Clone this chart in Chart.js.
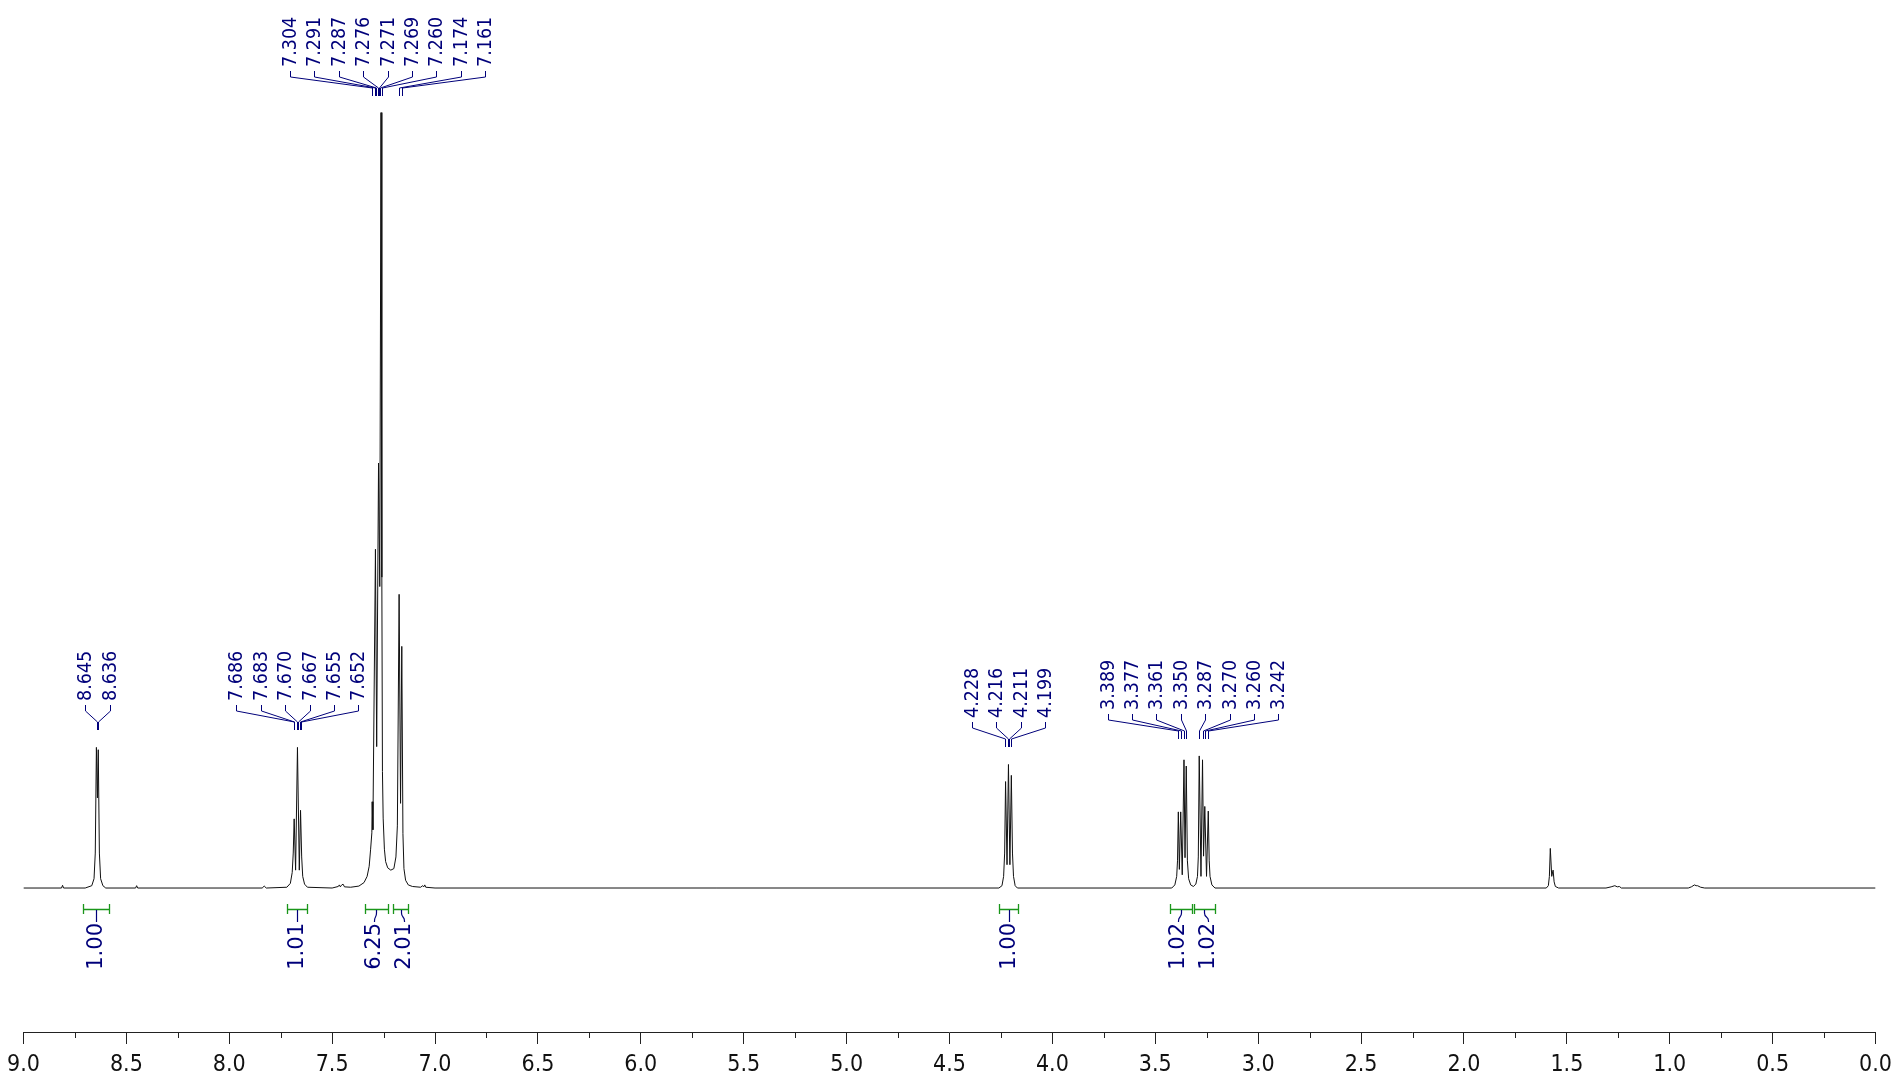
<!DOCTYPE html>
<html><head><meta charset="utf-8">
<script src="https://cdn.jsdelivr.net/npm/chart.js@4.4.1/dist/chart.umd.min.js"></script>
<style>html,body{margin:0;padding:0;background:#fff;overflow:hidden}canvas{display:block}</style>
</head><body>
<canvas id="c" width="1899" height="1076"></canvas>
<script>
// ---- spectrum (chemical shift in ppm, relative intensity, tallest = 100) ----
const shiftPpm = [
 9.00, 8.815, 8.81, 8.805, 8.70, 8.668, 8.657, 8.651, 8.6455, 8.6405, 8.6365, 8.631, 8.625, 8.614, 8.60,
 8.455, 8.45, 8.445, 7.84, 7.83, 7.82,
 7.72, 7.703, 7.694, 7.689, 7.6845, 7.6775, 7.6685, 7.6595, 7.6535, 7.648, 7.643, 7.634, 7.62,
 7.50, 7.47, 7.465, 7.46, 7.455, 7.447, 7.44, 7.41,
 7.37, 7.345, 7.33, 7.32, 7.313, 7.307, 7.3055, 7.302, 7.2895, 7.2835, 7.2745, 7.2685, 7.2625,
 7.2585, 7.2555, 7.252, 7.246, 7.240, 7.230, 7.215, 7.200, 7.190, 7.183,
 7.1745, 7.1675, 7.1615, 7.156, 7.151, 7.143, 7.13, 7.11,
 7.07, 7.06, 7.055, 7.05, 7.045, 7.00,
 4.26, 4.245, 4.237, 4.232, 4.2275, 4.2205, 4.2135, 4.2065, 4.1995, 4.194, 4.189, 4.181, 4.17,
 3.42, 3.405, 3.396, 3.392, 3.388, 3.383, 3.3765, 3.369, 3.3605, 3.3555, 3.3495, 3.344, 3.338, 3.328,
 3.315, 3.303, 3.295, 3.291, 3.2865, 3.278, 3.2705, 3.2655, 3.2595, 3.251, 3.2425, 3.238, 3.234, 3.225, 3.21,
 1.60, 1.59, 1.585, 1.5805, 1.5735, 1.567, 1.562, 1.556, 1.54,
 1.31, 1.285, 1.267, 1.255, 1.245, 1.235,
 0.91, 0.895, 0.880, 0.872, 0.865, 0.85, 0.83, 0.00
];
const intensity = [
 0.0, 0.0, 0.35, 0.0, 0.0, 0.3, 1.2, 4.5, 18.1, 11.6, 17.8, 4.5, 1.2, 0.3, 0.0,
 0.0, 0.3, 0.0, 0.0, 0.25, 0.0,
 0.1, 0.6, 2.0, 4.5, 8.9, 2.3, 18.1, 2.3, 10.0, 4.0, 1.5, 0.5, 0.1,
 0.0, 0.2, 0.4, 0.15, 0.35, 0.5, 0.15, 0.1,
 0.25, 0.7, 1.5, 2.8, 5.0, 7.1, 11.1, 7.5, 43.6, 18.2, 54.7, 38.8, 99.8,
 40.0, 15.0, 9.0, 5.0, 3.4, 2.6, 2.3, 2.5, 4.0, 8.0,
 37.8, 10.9, 31.1, 7.0, 2.5, 1.0, 0.4, 0.2,
 0.1, 0.3, 0.15, 0.4, 0.1, 0.0,
 0.0, 0.3, 1.5, 4.5, 13.7, 3.0, 15.9, 3.0, 14.5, 4.5, 1.5, 0.3, 0.0,
 0.0, 0.4, 1.5, 3.5, 9.8, 2.4, 9.8, 1.7, 16.5, 3.9, 15.7, 3.5, 1.2, 0.4,
 0.2, 0.5, 1.5, 4.0, 17.0, 1.5, 16.5, 4.1, 10.5, 1.5, 9.9, 3.5, 1.5, 0.4, 0.0,
 0.0, 0.3, 1.5, 5.1, 1.5, 2.3, 0.8, 0.2, 0.0,
 0.0, 0.15, 0.3, 0.15, 0.2, 0.0,
 0.0, 0.15, 0.4, 0.3, 0.3, 0.1, 0.0, 0.0
];

// ---- peak pick labels (one group per multiplet) ----
const peaks1 = ['8.645','8.636'];
const peaks2 = ['7.686','7.683','7.670','7.667','7.655','7.652'];
const peaks3 = ['7.304','7.291','7.287','7.276','7.271','7.269','7.260','7.174','7.161'];
const peaks4 = ['4.228','4.216','4.211','4.199'];
const peaks5 = ['3.389','3.377','3.361','3.350','3.287','3.270','3.260','3.242'];
const peakGroups = [peaks1, peaks2, peaks3, peaks4, peaks5];

// ---- integrals ----
const integralFrom = [8.710, 7.721, 7.341, 7.203, 4.259, 3.427, 3.313];
const integralTo   = [8.586, 7.624, 7.228, 7.130, 4.166, 3.322, 3.212];
const integralText = ['1.00','1.01','6.25','2.01','1.00','1.02','1.02'];

// ---- axis ----
const axisMin = 0, axisMax = 9, majorStep = 0.5, minorStep = 0.25;

const NAVY = '#00007a';
const GREEN = '#1a961a';
const PEAK_FONT = '19.5px "DejaVu Sans Condensed", "DejaVu Sans"';
const INT_FONT = '21px "DejaVu Sans"';
const groupShift = [0, 0, 5, 0, 0];

const annot = {
  id: 'annot',
  afterDraw(chart) {
    const ctx = chart.ctx, xs = chart.scales.x, ys = chart.scales.y;
    const ca = chart.chartArea;
    ctx.save();
    // minor ticks
    ctx.strokeStyle = '#222'; ctx.lineWidth = 1;
    for (let v = axisMin + minorStep; v < axisMax; v += majorStep) {
      const px = Math.round(xs.getPixelForValue(v)) + 0.5;
      ctx.beginPath(); ctx.moveTo(px, ca.bottom); ctx.lineTo(px, ca.bottom + 6); ctx.stroke();
    }
    // peak labels
    ctx.font = PEAK_FONT; ctx.fillStyle = NAVY; ctx.strokeStyle = NAVY; ctx.lineWidth = 1;
    peakGroups.forEach((g, gi) => {
      const vals = g.map(parseFloat);
      const pxs = vals.map(v => xs.getPixelForValue(v));
      const lo = Math.min(...vals) - 0.01, hi = Math.max(...vals) + 0.01;
      let m = 0;
      shiftPpm.forEach((p, i) => { if (p >= lo && p <= hi) m = Math.max(m, intensity[i]); });
      const bottom = Math.round(ys.getPixelForValue(m) - 17);
      const mean = pxs.reduce((a, b) => a + b, 0) / pxs.length + groupShift[gi];
      const sp = 24.4;
      g.forEach((s, i) => {
        const lx = Math.round(mean + (i - (g.length - 1) / 2) * sp) + 0.5;
        const px = Math.round(pxs[i]) + 0.5;
        ctx.beginPath();
        ctx.moveTo(lx, bottom - 25); ctx.lineTo(lx, bottom - 19);
        ctx.lineTo(px, bottom - 8); ctx.lineTo(px, bottom);
        ctx.stroke();
        ctx.save();
        ctx.translate(lx, bottom - 29); ctx.rotate(-Math.PI / 2);
        ctx.textAlign = 'left'; ctx.textBaseline = 'middle';
        ctx.fillText(s, 0, 0);
        ctx.restore();
      });
    });
    // integrals
    const yI = 909;
    const centers = integralFrom.map((f, i) => (xs.getPixelForValue(f) + xs.getPixelForValue(integralTo[i])) / 2);
    const tx = centers.slice();
    for (let i = 0; i < tx.length - 1; i++) {
      if (tx[i + 1] - tx[i] < 30) { const mid = (tx[i] + tx[i + 1]) / 2; tx[i] = mid - 15; tx[i + 1] = mid + 15; }
    }
    integralFrom.forEach((f, i) => {
      const x1 = Math.round(xs.getPixelForValue(f)) + 0.5, x2 = Math.round(xs.getPixelForValue(integralTo[i])) + 0.5;
      ctx.strokeStyle = GREEN; ctx.lineWidth = 1.3;
      ctx.beginPath();
      ctx.moveTo(x1, yI - 5); ctx.lineTo(x1, yI + 5);
      ctx.moveTo(x2, yI - 5); ctx.lineTo(x2, yI + 5);
      ctx.moveTo(x1, yI + 0.5); ctx.lineTo(x2, yI + 0.5);
      ctx.stroke();
      const c = Math.round(centers[i]) + 0.5, t = Math.round(tx[i]) + 0.5;
      ctx.strokeStyle = NAVY; ctx.lineWidth = 1.2;
      ctx.beginPath();
      ctx.moveTo(c, yI + 1);
      if (Math.abs(c - t) < 1) { ctx.lineTo(c, yI + 13); }
      else { ctx.lineTo(c, yI + 4); ctx.bezierCurveTo(c, yI + 9, t, yI + 7, t, yI + 12); ctx.lineTo(t, yI + 13); }
      ctx.stroke();
      ctx.save();
      ctx.fillStyle = NAVY; ctx.font = INT_FONT;
      ctx.translate(t, yI + 14); ctx.rotate(-Math.PI / 2);
      ctx.textAlign = 'right'; ctx.textBaseline = 'middle';
      ctx.fillText(integralText[i], 0, 0);
      ctx.restore();
    });
    ctx.restore();
  }
};

new Chart(document.getElementById('c').getContext('2d'), {
  type: 'scatter',
  data: { datasets: [{
    data: shiftPpm.map((p, i) => ({ x: p, y: intensity[i] })),
    showLine: true, borderColor: '#111', borderWidth: 1, pointRadius: 0, tension: 0, fill: false
  }]},
  options: {
    responsive: false, animation: false, devicePixelRatio: 1,
    layout: { padding: { left: 23, right: 21, top: 0, bottom: 0 } },
    plugins: { legend: { display: false }, tooltip: { enabled: false } },
    scales: {
      x: {
        type: 'linear', min: axisMin, max: axisMax, reverse: true, position: 'bottom',
        afterFit: s => { s.height = 44; },
        grid: { display: true, drawOnChartArea: false, drawTicks: true, tickLength: 12, color: '#222', lineWidth: 1 },
        border: { display: true, color: '#222', width: 1 },
        ticks: { stepSize: majorStep, autoSkip: false, maxRotation: 0, padding: 7, color: '#111',
          font: { family: '"DejaVu Sans Condensed", "DejaVu Sans"', size: 23 },
          callback: v => Number(v).toFixed(1) }
      },
      y: { display: false, min: -18.53, max: 114.29 }
    }
  },
  plugins: [annot]
});
</script>
</body></html>
